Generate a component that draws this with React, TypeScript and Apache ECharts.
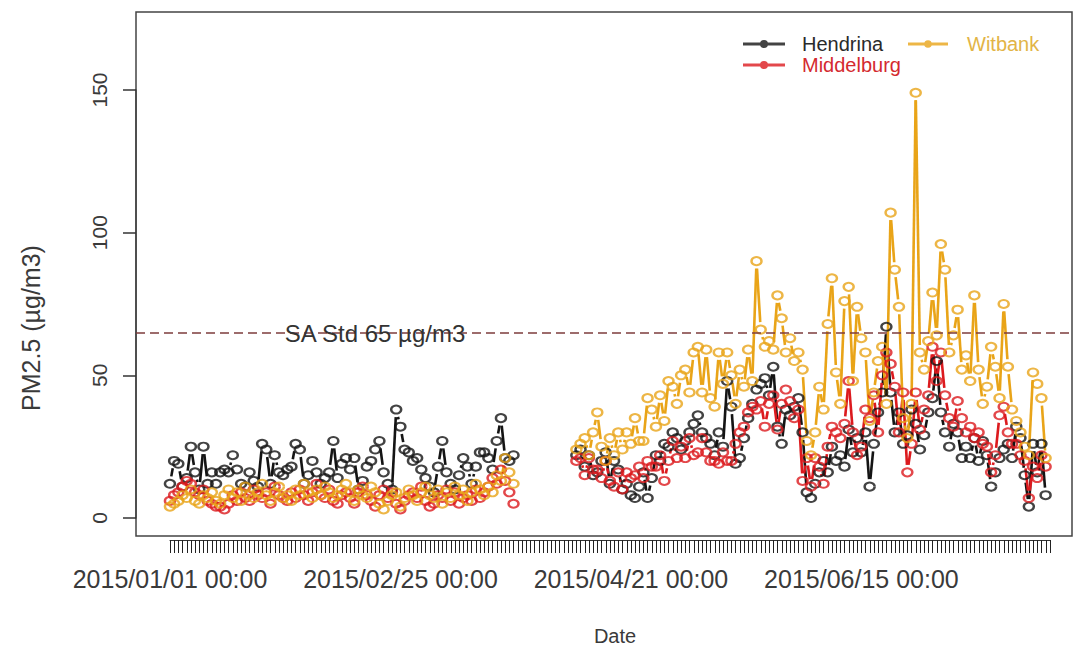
import React, { useEffect, useRef } from "react";
import * as echarts from "echarts";

// ---------- data ----------
const stations = ["Hendrina", "Middelburg", "Witbank"];
const stationColors = ["#141414", "#DC1A1E", "#E9A418"];
const legendTextColors = ["#2a2a2a", "#D42A2F", "#E2B446"];

// day index 0 = 2015/01/01; first block of days starts at day 0, second at day 97
const block1StartDay = 0;
const block2StartDay = 97;
const lastTickDay = 210;

const xTickDays = [0, 55, 110, 165];
const xTickLabels = ["2015/01/01 00:00", "2015/02/25 00:00", "2015/04/21 00:00", "2015/06/15 00:00"];
const yTicks = [0, 50, 100, 150];
const saStandard = 65;
const saLabel = "SA Std 65 µg/m3";

const hendrinaJanMar = [
  12, 20, 19, 11, 14, 25, 16, 10, 25, 12,
  16, 12, 16, 17, 16, 22, 17, 12, 11, 16,
  13, 11, 26, 24, 12, 22, 16, 15, 17, 18,
  26, 24, 12, 15, 20, 16, 12, 14, 16, 27,
  14, 19, 21, 17, 21, 10, 13, 18, 20, 24,
  27, 16, 12, 10, 38, 32, 24, 23, 20, 21,
  17, 14, 11, 9, 18, 27, 16, 12, 10, 15,
  21, 18, 12, 18, 23, 23, 21, 17, 27, 35,
  21, 20, 22,
];
const hendrinaAprJul = [
  22, 24, 18, 22, 15, 16, 20, 23, 12, 20,
  17, 10, 12, 8, 7, 11, 16, 7, 14, 22,
  20, 26, 25, 30, 28, 24, 27, 30, 33, 36,
  30, 28, 26, 22, 30, 25, 48, 39, 19, 21,
  28, 35, 40, 45, 47, 49, 43, 53, 32, 26,
  38, 36, 39, 42, 30, 9, 7, 12, 16, 20,
  16, 25, 20, 22, 18, 31, 23, 28, 23, 30,
  11, 26, 37, 44, 67, 44, 30, 37, 26, 29,
  38, 33, 24, 29, 37, 42, 55, 37, 30, 25,
  33, 30, 21, 25, 21, 28, 20, 27, 22, 11,
  16, 21, 24, 26, 21, 32, 28, 15, 4, 26,
  16, 26, 8,
];

const middelburgJanMar = [
  6, 8, 9, 11, 13, 12, 9, 8, 10, 6,
  5, 4, 4, 3, 5, 8, 6, 9, 7, 6,
  10, 8, 7, 9, 5, 11, 8, 7, 6, 9,
  7, 10, 8, 6, 9, 12, 8, 7, 10, 6,
  5, 8, 9, 7, 5, 9, 11, 8, 6, 4,
  8, 10, 7, 9, 5, 3, 6, 8, 9, 7,
  11, 6, 4, 5, 8, 7, 10, 6, 9, 5,
  7, 8, 6, 10, 7, 9, 11, 14, 12, 17,
  13, 9, 5,
];
const middelburgAprJul = [
  20, 21, 15, 21, 17, 17, 14, 20, 13, 11,
  16, 10, 16, 14, 15, 18, 14, 20, 18, 18,
  22, 13, 20, 27, 21, 25, 21, 28, 22, 23,
  28, 23, 20, 20, 19, 23, 20, 20, 26, 30,
  32, 37, 39, 38, 41, 32, 40, 43, 31, 40,
  45, 41, 35, 38, 13, 21, 11, 21, 18, 12,
  25, 32, 30, 28, 33, 48, 30, 22, 25, 38,
  35, 43, 30, 50, 58, 54, 46, 30, 44, 16,
  26, 44, 31, 38, 43, 60, 48, 58, 43, 35,
  32, 41, 35, 30, 32, 28, 30, 26, 25, 16,
  22, 36, 39, 30, 26, 26, 22, 20, 7, 18,
  14, 22, 18,
];

const witbankJanMar = [
  4, 5, 6, 8, 7, 10, 6, 5, 8, 7,
  9, 6, 5, 8, 10, 7, 9, 6, 11, 8,
  7, 9, 12, 8, 6, 9, 11, 7, 8, 6,
  10, 8, 12, 9, 7, 10, 8, 11, 9, 7,
  8, 10, 12, 9, 6, 10, 8, 7, 11, 9,
  5, 3, 6, 8, 9, 4, 7, 10, 8, 6,
  9, 11, 8, 7, 10, 5, 9, 7, 11, 8,
  10, 6, 9, 12, 10, 8, 11, 9, 15, 13,
  21, 16, 12,
];
const witbankAprJul = [
  24, 26, 28, 22, 30, 37, 25, 20, 28, 22,
  30, 24, 30, 26, 35, 27, 27, 42, 38, 32,
  43, 34, 48, 46, 40, 50, 52, 44, 58, 60,
  44, 59, 42, 39, 58, 47, 58, 50, 40, 52,
  46, 59, 48, 90, 66, 60, 62, 59, 78, 70,
  58, 63, 55, 58, 52, 27, 22, 30, 46, 38,
  68, 84, 51, 40, 76, 81, 48, 74, 63, 58,
  34, 44, 55, 60, 40, 107, 87, 74, 35, 28,
  40, 149, 58, 52, 62, 79, 64, 96, 87, 58,
  64, 73, 52, 57, 48, 78, 52, 40, 46, 60,
  53, 42, 75, 53, 38, 34, 30, 25, 22, 51,
  47, 42, 21,
];

const stationBlocks = [
  [hendrinaJanMar, hendrinaAprJul],
  [middelburgJanMar, middelburgAprJul],
  [witbankJanMar, witbankAprJul],
];

// ---------- helpers ----------
const FONT = "'Liberation Sans', Arial, Helvetica, sans-serif";
const RX = 5.5;
const RY = 4.5;

function toPoints(blocks: number[][]) {
  const pts: number[][] = [];
  blocks[0].forEach((v, i) => pts.push([block1StartDay + i, v]));
  blocks[1].forEach((v, i) => pts.push([block2StartDay + i, v]));
  return pts;
}

function toSegments(blocks: number[][]) {
  const segs: number[][] = [];
  const starts = [block1StartDay, block2StartDay];
  blocks.forEach((arr, b) => {
    for (let i = 1; i < arr.length; i++) {
      segs.push([starts[b] + i - 1, arr[i - 1], starts[b] + i, arr[i]]);
    }
  });
  return segs;
}

function makeRenderItem(color: string) {
  return (_params: any, api: any) => {
    const p0 = api.coord([api.value(0), api.value(1)]);
    const p1 = api.coord([api.value(2), api.value(3)]);
    const dx = p1[0] - p0[0];
    const dy = p1[1] - p0[1];
    const len = Math.hypot(dx, dy);
    if (len === 0) return null;
    const ux = dx / len;
    const uy = dy / len;
    const gap = 1 / Math.sqrt((ux / RX) ** 2 + (uy / RY) ** 2) + 3;
    if (len <= 2 * gap + 2) return null;
    return {
      type: "line",
      shape: {
        x1: p0[0] + ux * gap,
        y1: p0[1] + uy * gap,
        x2: p1[0] - ux * gap,
        y2: p1[1] - uy * gap,
      },
      style: { stroke: color, lineWidth: 2.6 },
    };
  };
}

const LEGEND_ICON = "path://M0 2.5h42v3H0z M21 0a4 4 0 1 1 0 8a4 4 0 1 1 0 -8z";

export default function App() {
  const ref = useRef<HTMLDivElement>(null);

  useEffect(() => {
    if (!ref.current) return;
    const chart = echarts.init(ref.current, undefined, { renderer: "svg" });

    const series: any[] = [];
    stations.forEach((name, k) => {
      series.push({
        type: "custom",
        xAxisIndex: 0,
        yAxisIndex: 0,
        silent: true,
        z: 2,
        encode: { x: [0, 2], y: [1, 3] },
        data: toSegments(stationBlocks[k]),
        renderItem: makeRenderItem(stationColors[k]),
      });
    });
    stations.forEach((name, k) => {
      const s: any = {
        type: "scatter",
        name,
        xAxisIndex: 0,
        yAxisIndex: 0,
        silent: true,
        z: 3,
        symbol: "circle",
        symbolSize: [10, 8],
        itemStyle: { color: "rgba(0,0,0,0)", borderColor: stationColors[k], borderWidth: 2.2 },
        data: toPoints(stationBlocks[k]),
      };
      if (k === 0) {
        s.markLine = {
          silent: true,
          symbol: ["none", "none"],
          label: { show: false },
          lineStyle: { color: "#7d3c3c", type: [9, 5], width: 1.5 },
          data: [{ yAxis: saStandard }],
        };
      }
      series.push(s);
    });

    const legendItem = (k: number) => ({
      name: stations[k],
      itemStyle: { color: stationColors[k], borderColor: stationColors[k], borderWidth: 0 },
      textStyle: { color: legendTextColors[k] },
    });

    const option: any = {
      animation: false,
      backgroundColor: "#ffffff",
      grid: [
        { left: 136, top: 12, width: 936, height: 524, show: true, borderColor: "#444", borderWidth: 1.5, backgroundColor: "transparent" },
        { left: 170, top: 539, width: 880, height: 1 },
        { left: 136, top: 90, width: 936, height: 428 },
      ],
      xAxis: [
        { gridIndex: 0, type: "value", min: -8.1, max: 215.3, show: false },
        {
          gridIndex: 1,
          type: "value",
          min: 0,
          max: lastTickDay,
          interval: 1,
          position: "bottom",
          axisLine: { show: true, lineStyle: { color: "#333", width: 1 } },
          axisTick: { show: true, length: 13, lineStyle: { color: "#222", width: 1 } },
          splitLine: { show: false },
          axisLabel: {
            show: true,
            margin: 26,
            fontSize: 25,
            color: "#3a3a3a",
            fontFamily: FONT,
            formatter: (v: number) => {
              const i = xTickDays.indexOf(Math.round(v));
              return i >= 0 ? xTickLabels[i] : "";
            },
          },
        },
        { gridIndex: 2, type: "value", min: 0, max: 1, show: false },
      ],
      yAxis: [
        { gridIndex: 0, type: "value", min: -6.3, max: 177.3, show: false },
        { gridIndex: 1, type: "value", min: 0, max: 1, show: false },
        {
          gridIndex: 2,
          type: "value",
          min: yTicks[0],
          max: yTicks[yTicks.length - 1],
          interval: 50,
          axisLine: { show: true, lineStyle: { color: "#444", width: 1.5 } },
          axisTick: { show: true, length: 13, lineStyle: { color: "#333", width: 1.5 } },
          splitLine: { show: false },
          axisLabel: { rotate: 90, margin: 26, fontSize: 21, color: "#3a3a3a", fontFamily: FONT },
        },
      ],
      legend: [
        {
          orient: "vertical",
          left: 738,
          top: 29,
          itemWidth: 42,
          itemHeight: 8,
          itemGap: 1,
          icon: LEGEND_ICON,
          selectedMode: false,
          textStyle: { fontSize: 20, fontFamily: FONT, padding: [0, 0, 0, 12] },
          data: [legendItem(0), legendItem(1)],
        },
        {
          orient: "vertical",
          left: 903,
          top: 29,
          itemWidth: 40,
          itemHeight: 8,
          itemGap: 1,
          icon: LEGEND_ICON,
          selectedMode: false,
          textStyle: { fontSize: 20, fontFamily: FONT, padding: [0, 0, 0, 14] },
          data: [legendItem(2)],
        },
      ],
      graphic: [
        {
          type: "text",
          x: 31,
          y: 328,
          rotation: Math.PI / 2,
          z: 10,
          style: {
            text: "PM2.5 (µg/m3)",
            fontSize: 25,
            fontFamily: FONT,
            fill: "#3a3a3a",
            align: "center",
            verticalAlign: "middle",
            textAlign: "center",
            textVerticalAlign: "middle",
          },
        },
        {
          type: "text",
          x: 615,
          y: 636,
          z: 10,
          style: {
            text: "Date",
            fontSize: 20,
            fontFamily: FONT,
            fill: "#3a3a3a",
            align: "center",
            verticalAlign: "middle",
            textAlign: "center",
            textVerticalAlign: "middle",
          },
        },
        {
          type: "text",
          x: 375,
          y: 333,
          z: 10,
          style: {
            text: saLabel,
            fontSize: 24,
            fontFamily: FONT,
            fill: "#333",
            align: "center",
            verticalAlign: "middle",
            textAlign: "center",
            textVerticalAlign: "middle",
          },
        },
      ],
      series,
    };

    chart.setOption(option);
    return () => chart.dispose();
  }, []);

  return (
    <div
      ref={ref}
      style={{ position: "fixed", left: 0, top: 0, width: 1087, height: 656, background: "#fff" }}
    />
  );
}
